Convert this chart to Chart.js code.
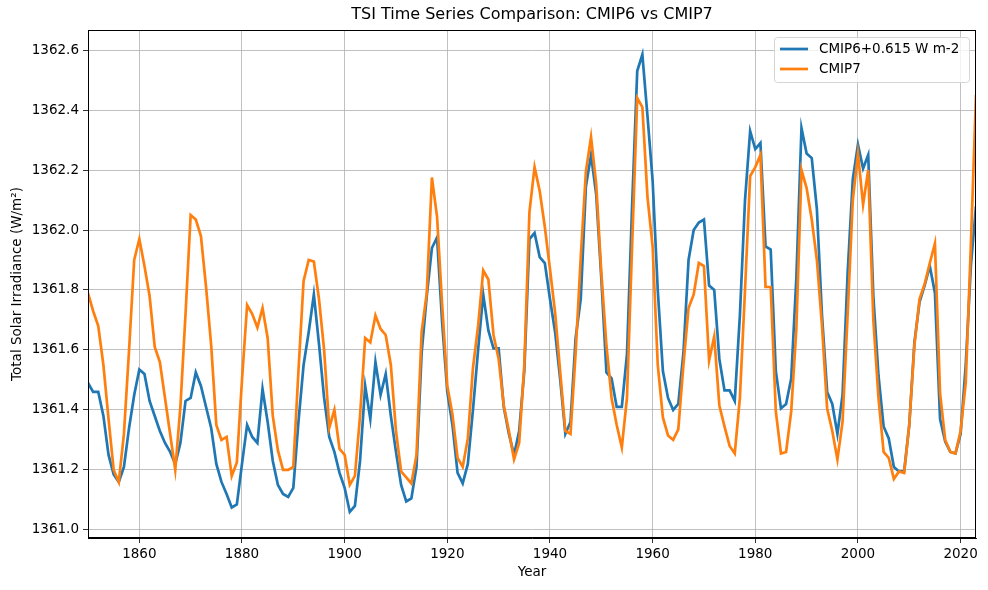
<!DOCTYPE html>
<html lang="en">
<head>
  <meta charset="UTF-8">
  <title>TSI Time Series Comparison</title>
  <script src="https://cdn.jsdelivr.net/npm/chart.js"></script>
  <style>
    body { margin: 0; background: #fff; }
    #wrap { width: 988px; height: 590px; }
  </style>
</head>
<body>
<div id="wrap">
  <canvas id="myChart" width="988" height="590"></canvas>
</div>
<script>
// annual values, 1850..2023 (one row per decade)
const firstYear = 1850;

const cmip6 = [
  1361.49, 1361.46, 1361.46, 1361.38, 1361.25, 1361.185, 1361.16, 1361.21, 1361.34, 1361.45,
  1361.535, 1361.52, 1361.43, 1361.38, 1361.33, 1361.29, 1361.26, 1361.22, 1361.29, 1361.43,
  1361.44, 1361.525, 1361.48, 1361.41, 1361.34, 1361.22, 1361.16, 1361.12, 1361.075, 1361.085,
  1361.22, 1361.35, 1361.31, 1361.29, 1361.47, 1361.36, 1361.23, 1361.15, 1361.12, 1361.11,
  1361.14, 1361.36, 1361.55, 1361.66, 1361.785, 1361.62, 1361.44, 1361.31, 1361.26, 1361.19,
  1361.14, 1361.06, 1361.08, 1361.23, 1361.48, 1361.37, 1361.56, 1361.45, 1361.52, 1361.38,
  1361.26, 1361.15, 1361.095, 1361.105, 1361.21, 1361.59, 1361.78, 1361.94, 1361.975, 1361.69,
  1361.46, 1361.35, 1361.19, 1361.155, 1361.22, 1361.40, 1361.60, 1361.785, 1361.665, 1361.605,
  1361.605, 1361.41, 1361.32, 1361.25, 1361.33, 1361.53, 1361.97, 1361.99, 1361.91, 1361.89,
  1361.77, 1361.66, 1361.50, 1361.32, 1361.36, 1361.64, 1361.77, 1362.145, 1362.25, 1362.12,
  1361.84, 1361.525, 1361.505, 1361.41, 1361.41, 1361.585, 1362.08, 1362.53, 1362.585, 1362.38,
  1362.165, 1361.80, 1361.53, 1361.44, 1361.40, 1361.42, 1361.59, 1361.90, 1362.00, 1362.025,
  1362.035, 1361.815, 1361.80, 1361.57, 1361.465, 1361.465, 1361.43, 1361.715, 1362.10, 1362.33,
  1362.27, 1362.29, 1361.945, 1361.935, 1361.53, 1361.405, 1361.42, 1361.505, 1361.84, 1362.34,
  1362.255, 1362.24, 1362.07, 1361.715, 1361.46, 1361.42, 1361.32, 1361.45, 1361.86, 1362.17,
  1362.285, 1362.205, 1362.25, 1361.78, 1361.515, 1361.345, 1361.305, 1361.21, 1361.195, 1361.195,
  1361.35, 1361.625, 1361.76, 1361.815, 1361.88, 1361.79, 1361.37, 1361.295, 1361.26, 1361.255,
  1361.32, 1361.55, 1361.88, 1362.08
];

const cmip7 = [
  1361.79, 1361.73, 1361.68, 1361.55, 1361.37, 1361.20, 1361.16, 1361.32, 1361.60, 1361.90,
  1361.97, 1361.88, 1361.78, 1361.61, 1361.56, 1361.44, 1361.32, 1361.20, 1361.41, 1361.72,
  1362.05, 1362.035, 1361.98, 1361.81, 1361.615, 1361.35, 1361.30, 1361.31, 1361.18, 1361.225,
  1361.50, 1361.75, 1361.72, 1361.675, 1361.74, 1361.64, 1361.38, 1361.265, 1361.20, 1361.20,
  1361.21, 1361.53, 1361.83, 1361.90, 1361.895, 1361.77, 1361.60, 1361.34, 1361.40, 1361.27,
  1361.25, 1361.15, 1361.18, 1361.38, 1361.64, 1361.625, 1361.715, 1361.67, 1361.65, 1361.55,
  1361.33, 1361.195, 1361.175, 1361.155, 1361.25, 1361.66, 1361.79, 1362.175, 1362.045, 1361.75,
  1361.48, 1361.385, 1361.24, 1361.21, 1361.305, 1361.54, 1361.68, 1361.865, 1361.835, 1361.65,
  1361.57, 1361.415, 1361.33, 1361.235, 1361.29, 1361.55, 1362.06, 1362.21, 1362.13, 1362.01,
  1361.87, 1361.725, 1361.525, 1361.33, 1361.32, 1361.59, 1361.91, 1362.195, 1362.31, 1362.155,
  1361.86, 1361.615, 1361.44, 1361.35, 1361.275, 1361.44, 1361.945, 1362.44, 1362.41, 1362.11,
  1361.945, 1361.55, 1361.375, 1361.315, 1361.30, 1361.335, 1361.55, 1361.74, 1361.785, 1361.89,
  1361.88, 1361.565, 1361.645, 1361.415, 1361.345, 1361.28, 1361.255, 1361.44, 1361.80, 1362.18,
  1362.21, 1362.25, 1361.81, 1361.81, 1361.395, 1361.255, 1361.26, 1361.395, 1361.67, 1362.20,
  1362.14, 1362.035, 1361.90, 1361.68, 1361.405, 1361.33, 1361.235, 1361.36, 1361.72, 1362.10,
  1362.255, 1362.085, 1362.20, 1361.70, 1361.44, 1361.26, 1361.24, 1361.17, 1361.195, 1361.19,
  1361.35, 1361.615, 1361.77, 1361.82, 1361.89, 1361.955, 1361.455, 1361.30, 1361.26, 1361.255,
  1361.33, 1361.49, 1361.95, 1362.45
];

const xTicks = [1860, 1880, 1900, 1920, 1940, 1960, 1980, 2000, 2020];
const yTicks = [1361.0, 1361.2, 1361.4, 1361.6, 1361.8, 1362.0, 1362.2, 1362.4, 1362.6];
const titleText = 'TSI Time Series Comparison: CMIP6 vs CMIP7';

const toPoints = (vals) => vals.map((v, i) => ({ x: firstYear + i, y: v }));

const font = { family: 'DejaVu Sans', size: 13.5 };

// matplotlib-like frame, title over the axes and legend inside the axes
const framePlugin = {
  id: 'frame',
  afterDraw(chart) {
    const ctx = chart.ctx, a = chart.chartArea;
    ctx.save();
    ctx.strokeStyle = '#000';
    ctx.lineWidth = 1;
    ctx.strokeRect(Math.round(a.left) + 0.5, Math.round(a.top) + 0.5,
                   Math.round(a.right - a.left) - 1, Math.round(a.bottom - a.top) - 1);

    ctx.fillStyle = '#000';
    ctx.font = '16px "DejaVu Sans"';
    ctx.textAlign = 'center';
    ctx.textBaseline = 'middle';
    ctx.fillText(titleText, (a.left + a.right) / 2, 15);

    const w = 195, h = 45;
    const x = a.right - w - 7, y = a.top + 7;
    ctx.beginPath();
    ctx.roundRect(x + 0.5, y + 0.5, w, h, 3);
    ctx.fillStyle = 'rgba(255,255,255,0.8)';
    ctx.fill();
    ctx.strokeStyle = '#d5d5d5';
    ctx.stroke();

    ctx.font = '13.5px "DejaVu Sans"';
    ctx.textAlign = 'left';
    chart.data.datasets.forEach((ds, i) => {
      const ly = y + 12 + i * 20;
      ctx.strokeStyle = ds.borderColor;
      ctx.lineWidth = 2.7;
      ctx.beginPath();
      ctx.moveTo(x + 6, ly);
      ctx.lineTo(x + 34, ly);
      ctx.stroke();
      ctx.fillStyle = '#000';
      ctx.fillText(ds.label, x + 45, ly);
    });
    ctx.restore();
  }
};

const data = {
  datasets: [{
    label: 'CMIP6+0.615 W m-2',
    data: toPoints(cmip6),
    borderColor: '#1f77b4',
    borderWidth: 2.7,
    pointRadius: 0,
    order: 1
  }, {
    label: 'CMIP7',
    data: toPoints(cmip7),
    borderColor: '#ff7f0e',
    borderWidth: 2.7,
    pointRadius: 0,
    order: 0
  }]
};

const config = {
  type: 'line',
  data: data,
  options: {
    responsive: false,
    animation: false,
    layout: { padding: { left: 0, right: 12, top: 30, bottom: 0 } },
    plugins: {
      legend: { display: false },
      tooltip: { enabled: false },
      title: { display: false }
    },
    scales: {
      x: {
        type: 'linear',
        min: 1850,
        max: 2023,
        afterBuildTicks: (s) => { s.ticks = xTicks.map(v => ({ value: v })); },
        afterFit: (s) => { s.height = 52; },
        ticks: {
          color: '#000', font: font, padding: 3, maxRotation: 0, autoSkip: false,
          callback: (v) => String(v)
        },
        grid: { color: '#b0b0b0', lineWidth: 0.8, tickColor: '#000', tickLength: 5 },
        border: { color: '#000' },
        title: { display: true, text: 'Year', color: '#000', font: font, padding: { top: 0, bottom: 9 } }
      },
      y: {
        min: 1360.973,
        max: 1362.667,
        afterBuildTicks: (s) => { s.ticks = yTicks.map(v => ({ value: v })); },
        afterFit: (s) => { s.width = 88; },
        ticks: {
          color: '#000', font: font, padding: 4,
          callback: (v) => v.toFixed(1)
        },
        grid: { color: '#b0b0b0', lineWidth: 0.8, tickColor: '#000', tickLength: 5 },
        border: { color: '#000' },
        title: { display: true, text: 'Total Solar Irradiance (W/m²)', color: '#000', font: font, padding: { top: 9, bottom: 0 } }
      }
    }
  },
  plugins: [framePlugin]
};

const myChart = new Chart(
  document.getElementById('myChart'),
  config
);
</script>
</body>
</html>
